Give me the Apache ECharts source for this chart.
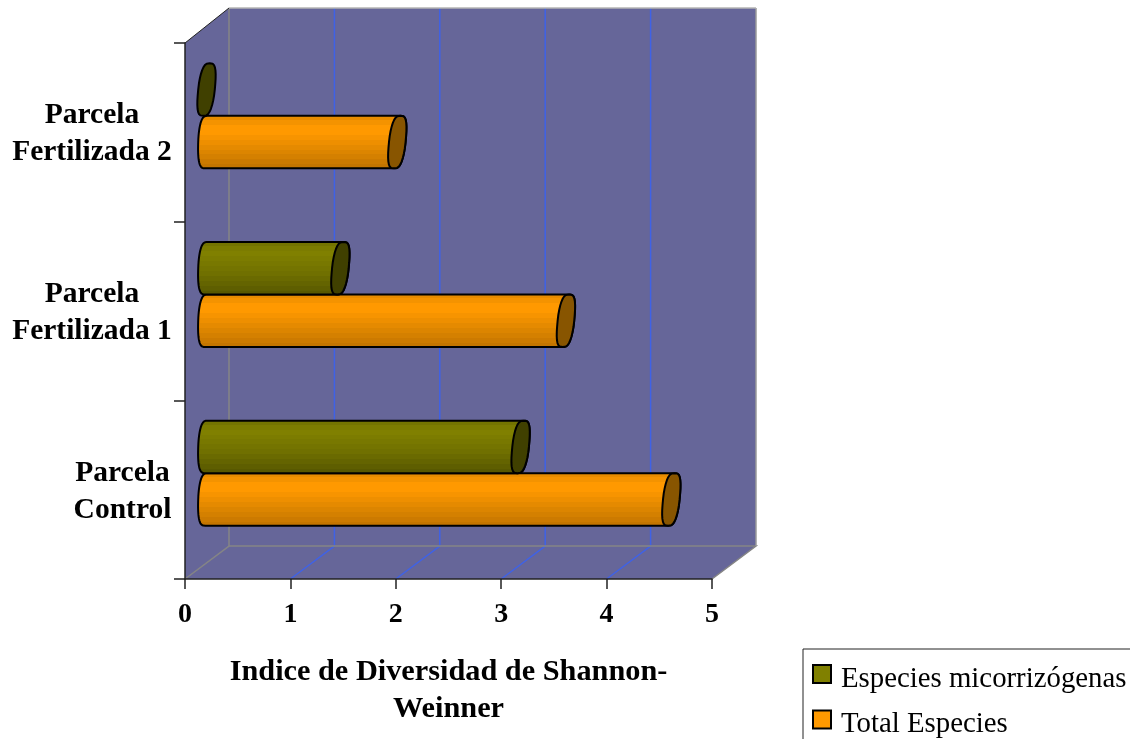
<!DOCTYPE html>
<html>
<head>
<meta charset="utf-8">
<script src="https://cdn.jsdelivr.net/npm/echarts@6/dist/echarts.min.js"></script>
<style>html,body{margin:0;padding:0;background:#fff}#c{width:1130px;height:739px}</style>
</head>
<body>
<div id="c"></div>
<script>
const categories = ['Parcela\nControl', 'Parcela\nFertilizada 1', 'Parcela\nFertilizada 2'];
const micorrizogenas = [2.98, 1.27, 0.0];
const totalEspecies = [4.41, 3.41, 1.81];
const xTicks = [0, 1, 2, 3, 4, 5];
const seriesNames = ['Especies micorrizógenas', 'Total Especies'];
const axisTitle = 'Indice de Diversidad de Shannon-\nWeinner';

const SERIF = '"Liberation Serif", "Times New Roman", serif';
const DEPTH_X = 44, DEPTH_Y = 33, TOP_RISE = 35;
const BAR_FRACTION = 0.294;

// Stepped shading across a cylinder, top edge to bottom edge.
function bands(colors) {
  const stops = [];
  colors.forEach((color, i) => {
    stops.push({ offset: i / colors.length, color });
    stops.push({ offset: (i + 1) / colors.length, color });
  });
  return { type: 'linear', x: 0, y: 0, x2: 0, y2: 1, colorStops: stops };
}
const oliveBody = bands(['#747400', '#7c7c00', '#808000', '#7c7c00', '#787800', '#747400', '#707000', '#6a6a00', '#646400', '#5e5e00', '#585800']);
const orangeBody = bands(['#e88c00', '#f49300', '#ff9900', '#ff9900', '#f79400', '#ee8f00', '#e58a00', '#dc8500', '#d48000', '#cc7a00', '#c47500']);

// Points of a blunt, leaning oval; the arc runs from angle a0 to a1 in degrees.
function arc(cx, cy, h, a0, a1, shear) {
  const rx = 8.3, pts = [], n = 32;
  const blunt = (v, p) => Math.sign(v) * Math.pow(Math.abs(v), p);
  for (let i = 0; i <= n; i++) {
    const t = (a0 + (a1 - a0) * i / n) * Math.PI / 180;
    pts.push([cx + rx * blunt(Math.cos(t), 0.62) - shear * Math.sin(t), cy + h * blunt(Math.sin(t), 0.9)]);
  }
  return pts;
}

function cylinderRenderer(side, body, capColor) {
  return function (params, api) {
    const end = api.coord([api.value(0), api.value(1)]);
    const start = api.coord([0, api.value(1)]);
    const band = api.size([0, 1])[1];
    const h = band * BAR_FRACTION / 2;
    const cy = end[1] - DEPTH_Y / 2 + side * h;
    const x0 = start[0] + DEPTH_X / 2 - 0.5;
    const x1 = end[0] + DEPTH_X / 2 - 0.5;
    const outline = arc(x0, cy, h, 90, 270, 1.2)
      .concat(arc(x1, cy, h, -90, 90, 3.2));
    const children = [];
    if (x1 - x0 > 1) {
      children.push({
        type: 'polygon',
        shape: { points: outline },
        style: { fill: body, stroke: '#000', lineWidth: 2, lineJoin: 'round' }
      });
    }
    children.push({
      type: 'polygon',
      shape: { points: arc(x1, cy, h, 0, 360, 3.2) },
      style: { fill: capColor, stroke: '#000', lineWidth: 2, lineJoin: 'round' }
    });
    return { type: 'group', children };
  };
}

// Back wall, side wall, floor and the gridlines that fold across them.
function renderWalls(params, api) {
  const g = params.coordSys;
  const left = g.x, right = g.x + g.width, top = g.y, bottom = g.y + g.height;
  const line = (pts, stroke, lineWidth) => ({
    type: 'polyline', shape: { points: pts }, style: { fill: 'none', stroke, lineWidth }
  });
  const children = [{
    type: 'polygon',
    shape: { points: [[left, top], [left + DEPTH_X, top - TOP_RISE], [right + DEPTH_X, top - TOP_RISE],
      [right + DEPTH_X, bottom - DEPTH_Y], [right, bottom], [left, bottom]] },
    style: { fill: '#666699' }
  }];
  xTicks.slice(1, -1).forEach(v => {
    const x = api.coord([v, 0])[0];
    children.push(line([[x, bottom], [x + DEPTH_X, bottom - DEPTH_Y], [x + DEPTH_X, top - TOP_RISE]], '#3f62e6', 1.5));
  });
  children.push(line([[left, bottom], [left + DEPTH_X, bottom - DEPTH_Y], [left + DEPTH_X, top - TOP_RISE]], '#858585', 1.5));
  children.push(line([[left + DEPTH_X, bottom - DEPTH_Y], [right + DEPTH_X, bottom - DEPTH_Y], [right, bottom]], '#858585', 1.5));
  children.push(line([[right + DEPTH_X, bottom - DEPTH_Y], [right + DEPTH_X, top - TOP_RISE]], '#9a9a9a', 1.5));
  children.push(line([[left + DEPTH_X, top - TOP_RISE], [right + DEPTH_X, top - TOP_RISE]], '#b4b4b4', 1.5));
  children.push(line([[left, top], [left + DEPTH_X, top - TOP_RISE]], '#222', 1));
  return { type: 'group', children };
}

const catFont = { fontFamily: SERIF, fontWeight: 'bold', fontSize: 29.5, color: '#000', lineHeight: 37, align: 'center' };

const chart = echarts.init(document.getElementById('c'), null, { renderer: 'canvas' });
chart.setOption({
  animation: false,
  backgroundColor: '#fff',
  grid: { left: 185, top: 43, width: 527, height: 536, containLabel: false },
  xAxis: {
    type: 'value', min: 0, max: 5, interval: 1, z: 4,
    splitLine: { show: false },
    axisLine: { show: true, lineStyle: { color: '#222', width: 1.5 } },
    axisTick: { show: true, length: 10, lineStyle: { color: '#222', width: 1.5 } },
    axisLabel: { fontFamily: SERIF, fontWeight: 'bold', fontSize: 28, color: '#000', margin: 22 },
    name: axisTitle, nameLocation: 'middle', nameGap: 75,
    nameTextStyle: { fontFamily: SERIF, fontWeight: 'bold', fontSize: 30.3, color: '#000', lineHeight: 37 }
  },
  yAxis: {
    type: 'category', data: categories, z: 4,
    splitLine: { show: false },
    axisLine: { show: true, lineStyle: { color: '#222', width: 1.5 } },
    axisTick: { show: true, length: 11, alignWithLabel: false, lineStyle: { color: '#222', width: 1.5 } },
    axisLabel: {
      margin: 13, align: 'right', padding: [4, 0, 0, 0],
      // Lines of one label are centred on each other; the block sits against the axis.
      formatter: v => {
        const style = v.indexOf('Fertilizada') >= 0 ? 'wide' : 'narrow';
        return v.split('\n').map(s => '{' + style + '|' + s + '}').join('\n');
      },
      rich: {
        wide: Object.assign({ width: 160 }, catFont),
        narrow: Object.assign({ width: 99 }, catFont)
      }
    }
  },
  legend: {
    left: 803, top: 649, height: 200, orient: 'vertical', itemGap: 16,
    itemWidth: 18, itemHeight: 18,
    padding: [15, 60, 40, 9],
    borderColor: '#222', borderWidth: 1, backgroundColor: '#fff',
    formatter: name => '{t|' + name + '}',
    textStyle: {
      rich: { t: { fontFamily: SERIF, fontSize: 28.8, color: '#000', lineHeight: 39, verticalAlign: 'bottom', padding: [0, 0, 0, 5] } }
    },
    data: [
      { name: seriesNames[0], icon: 'rect', itemStyle: { color: '#808000', borderColor: '#000', borderWidth: 2 } },
      { name: seriesNames[1], icon: 'rect', itemStyle: { color: '#ff9900', borderColor: '#000', borderWidth: 2 } }
    ]
  },
  series: [
    { name: 'paredes', type: 'custom', z: 1, silent: true, clip: false, renderItem: renderWalls, data: [[0, 0]], encode: { x: 0, y: 1 } },
    {
      name: seriesNames[1], type: 'custom', z: 5, clip: false,
      itemStyle: { color: '#ff9900' },
      renderItem: cylinderRenderer(1, orangeBody, '#885500'),
      data: totalEspecies.map((v, i) => [v, i]), encode: { x: 0, y: 1 }
    },
    {
      name: seriesNames[0], type: 'custom', z: 6, clip: false,
      itemStyle: { color: '#808000' },
      renderItem: cylinderRenderer(-1, oliveBody, '#404000'),
      data: micorrizogenas.map((v, i) => [v, i]), encode: { x: 0, y: 1 }
    }
  ]
});
</script>
</body>
</html>
